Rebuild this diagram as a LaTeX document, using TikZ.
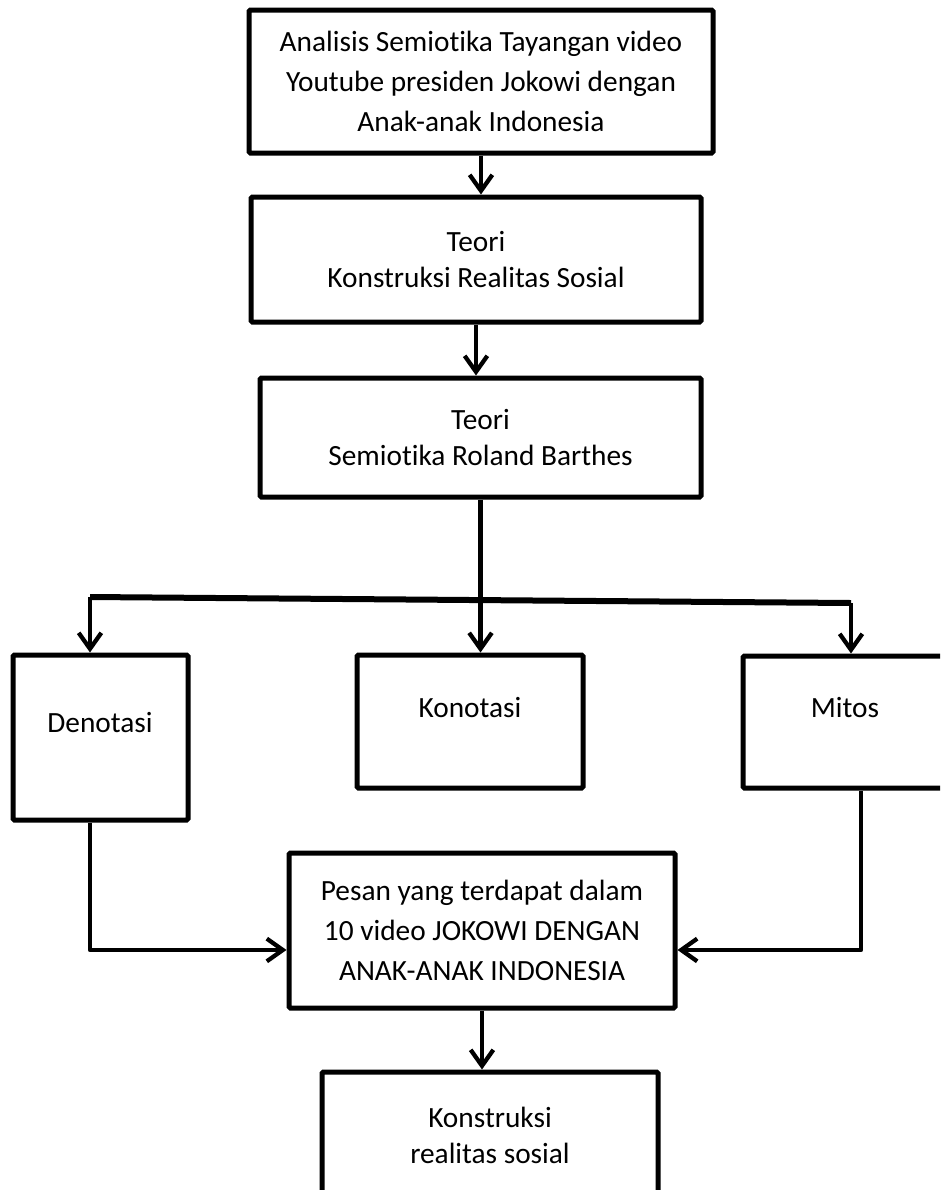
\documentclass[tikz,border=0pt]{standalone}
\usepackage{fontspec}
\setmainfont{Carlito}[RawFeature=-liga]
\usetikzlibrary{arrows.meta}

\begin{document}
\begin{tikzpicture}[x=0.75pt, y=-0.75pt,
    box/.style={draw, line width=3.75pt, inner sep=0pt, align=center, rounded corners=1pt,
        font=\fontsize{22}{30}\selectfont},
    lbl/.style={inner sep=0pt, align=center, font=\fontsize{22}{27}\selectfont},
    arr/.style={line width=3.2pt, line join=round, -{Straight Barb[length=12pt, width=17pt]}}]
    \useasboundingbox (0,0) rectangle (940,1190);
    \clip (0,0) rectangle (940,1190);

    % Judul
    \node[box, minimum width=348pt, minimum height=107.25pt] (top) at (481,81.5)
        {Analisis Semiotika Tayangan video\\Youtube presiden Jokowi dengan\\Anak-anak Indonesia};

    % Teori
    \node[box, minimum width=337.5pt, minimum height=93.75pt, font=\fontsize{22}{27}\selectfont]
        (teori1) at (476,259.5) {Teori\\Konstruksi Realitas Sosial};
    \node[box, minimum width=330.75pt, minimum height=89.25pt, font=\fontsize{22}{27}\selectfont]
        (teori2) at (480.5,437.5) {Teori\\Semiotika Roland Barthes};

    \draw[arr] (top.south) -- (top.south |- teori1.north);
    \draw[arr] (teori1.south) -- (teori1.south |- teori2.north);

    % Denotasi, Konotasi, Mitos
    \node[box, minimum width=131.25pt, minimum height=123.75pt] (denotasi) at (100.5,737.5) {};
    \node[lbl] (denotasi-t) at (100,723) {Denotasi};
    \node[box, minimum width=169.5pt, minimum height=99.75pt] (konotasi) at (470,721.5) {};
    \node[lbl] (konotasi-t) at (470,708) {Konotasi};
    \node[box, minimum width=153pt, minimum height=99pt] (mitos) at (845,722) {};
    \node[lbl] (mitos-t) at (845,708) {Mitos};

    \coordinate (bl) at (90,597);
    \coordinate (br) at (851,603);
    \draw[line width=4.5pt] (bl) -- (br);
    \draw[arr] (teori2.south) -- (teori2.south |- konotasi.north);
    \draw[arr] (bl) -- (bl |- denotasi.north);
    \draw[arr] (br) -- (br |- mitos.north);

    % Pesan
    \node[box, minimum width=289.5pt, minimum height=116.25pt] (pesan) at (482,930.5)
        {Pesan yang terdapat dalam\\10 video JOKOWI DENGAN\\ANAK-ANAK INDONESIA};

    \draw[arr] ([xshift=-7.9pt]denotasi.south) |- ([yshift=-14.6pt]pesan.west);
    \draw[arr] ([xshift=12pt]mitos.south) |- ([yshift=-14.6pt]pesan.east);

    % Hasil
    \node[box, minimum width=252pt, minimum height=120pt] (konstruksi) at (490,1152) {};
    \node[lbl] (konstruksi-t) at (490,1135) {Konstruksi\\realitas sosial};

    \draw[arr] (pesan.south) -- (pesan.south |- konstruksi.north);
\end{tikzpicture}
\end{document}
